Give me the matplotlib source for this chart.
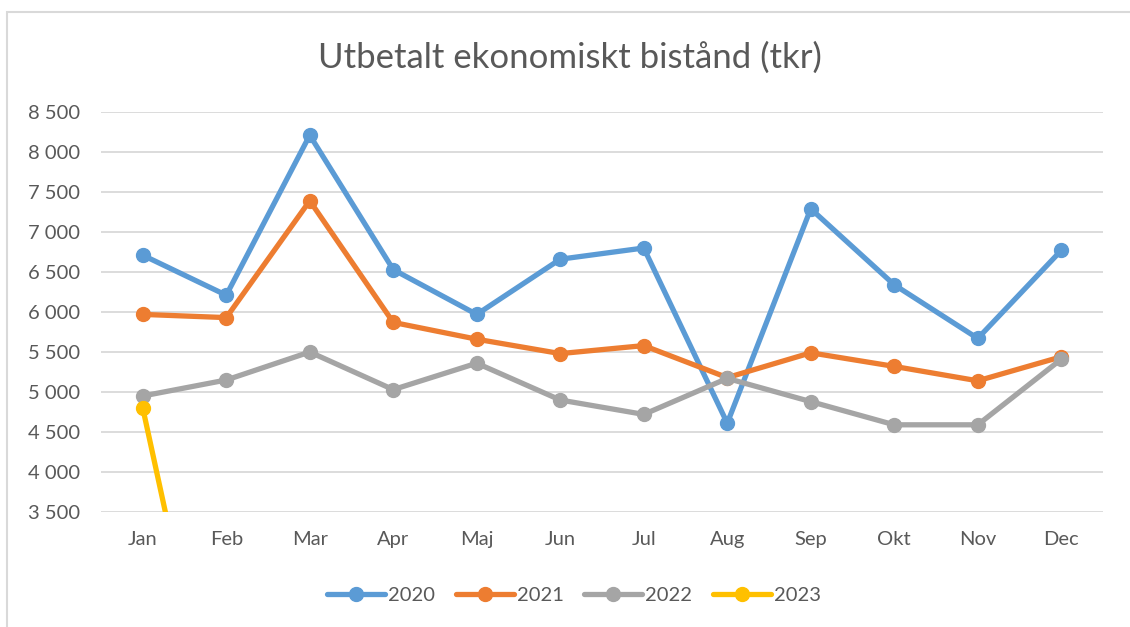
import matplotlib

matplotlib.use("Agg")
import matplotlib.pyplot as plt
from matplotlib.patches import Rectangle
from matplotlib.ticker import FuncFormatter

MONTHS = ["Jan", "Feb", "Mar", "Apr", "Maj", "Jun", "Jul", "Aug", "Sep", "Okt", "Nov", "Dec"]

V2020 = [6710, 6210, 8210, 6530, 5970, 6660, 6800, 4610, 7290, 6340, 5670, 6770]
V2021 = [5970, 5930, 7390, 5870, 5660, 5480, 5580, 5180, 5490, 5320, 5140, 5440]
V2022 = [4950, 5150, 5500, 5030, 5360, 4900, 4720, 5170, 4880, 4590, 4590, 5410]
V2023 = [4800, 0]

SERIES = [("2020", V2020, "#5b9bd5"),
          ("2021", V2021, "#ed7d31"),
          ("2022", V2022, "#a5a5a5"),
          ("2023", V2023, "#ffc000")]

TEXT = "#595959"
GRID = "#d9d9d9"

plt.rcParams["font.family"] = ["Lato", "DejaVu Sans"]

fig = plt.figure(figsize=(11.3, 6.27), dpi=100)
ax = fig.add_axes([101 / 1130, 1 - 512 / 627, 1002 / 1130, 400 / 627])

# chart area border (only left/top visible in the crop)
fig.patches.append(Rectangle((7 / 1130, -0.1), 1.2, 1 - 12 / 627 + 0.1,
                             transform=fig.transFigure, fill=False,
                             edgecolor="#d9d9d9", lw=1.5))

for name, vals, col in SERIES:
    ax.plot(range(len(vals)), vals, color=col, lw=3.8, marker="o",
            markersize=10, label=name, solid_joinstyle="round",
            solid_capstyle="round")

ax.set_xlim(-0.5, 11.5)
ax.set_ylim(3500, 8500)
ax.set_yticks(range(3500, 8501, 500))
ax.yaxis.set_major_formatter(FuncFormatter(lambda v, p: f"{int(v):,}".replace(",", " ")))
ax.set_xticks(range(12))
ax.set_xticklabels(MONTHS)
ax.grid(axis="y", color=GRID, lw=1.3)
ax.set_axisbelow(True)
for s in ax.spines.values():
    s.set_visible(False)
ax.tick_params(axis="both", length=0, labelsize=14.5, colors=TEXT)
ax.tick_params(axis="y", pad=15)
ax.tick_params(axis="x", pad=14)

fig.text(570 / 1130, 1 - 58 / 627, "Utbetalt ekonomiskt bistånd (tkr)",
         ha="center", va="center", fontsize=25, color=TEXT)

ax.legend(loc="center", bbox_to_anchor=(574 / 1130, 1 - 595 / 627),
          bbox_transform=fig.transFigure, ncol=4, frameon=False,
          fontsize=14.5, labelcolor=TEXT, handlelength=2.9, handletextpad=0.15,
          columnspacing=1.0)

fig.savefig("out.png", dpi=100)
